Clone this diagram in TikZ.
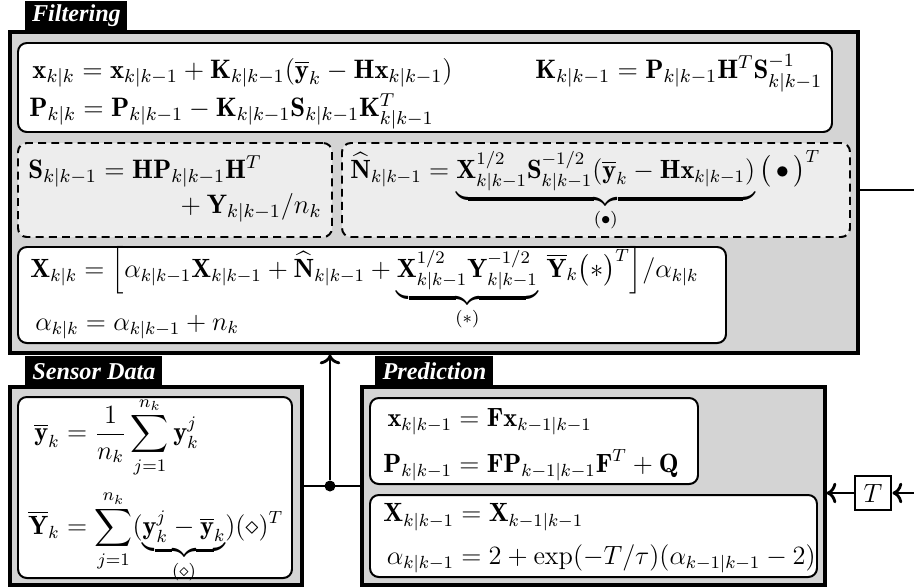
\documentclass[tikz,border=0pt]{standalone}
\usepackage{fix-cm}
\usepackage{amsmath}
\usepackage{amssymb}
\usepackage{fontspec}
\usepackage{tikz}
\usetikzlibrary{positioning, arrows.meta, fit}

\newfontfamily\titlefont{Liberation Serif}
\newcommand{\kp}{k|k-1}
\newcommand{\kpp}{k-1|k-1}
\newcommand{\bvec}[1]{\mathbf{#1}}

\begin{document}
\begin{tikzpicture}[
    x=0.4546pt, y=-0.4546pt,
    >={To},
    every node/.append style={font=\fontsize{12}{14.5}\selectfont},
    group/.style={draw, line width=1.4pt, fill=black!17, inner sep=0pt},
    eqbox/.style={draw, line width=0.9pt, fill=white, rounded corners=4pt, inner sep=0pt},
    dashbox/.style={eqbox, fill=black!7, dash pattern=on 3.6pt off 2.4pt},
    title/.style={fill=black, text=white, inner sep=0pt, anchor=south west,
      minimum height=14pt,
      font=\titlefont\bfseries\itshape\fontsize{11}{13}\selectfont},
    eq/.style={inner sep=0pt, anchor=base west},
    bigeq/.style={eq, font=\fontsize{12.15}{14.5}\selectfont},
    link/.style={line width=1.3pt},
    dot/.style={circle, fill=black, inner sep=0pt, minimum size=5pt},
    tbox/.style={draw, line width=1.3pt, fill=white, minimum width=16.4pt,
      minimum height=15.5pt, inner sep=0pt},
  ]
  \useasboundingbox (0,0) rectangle (914,587);

  % filtering block
  \node[group, fit={(10,32) (858,353)}] (filt) {};
  \node[title, minimum width=102*0.4546pt] (filttitle) at (25,32) {Filtering};
  \node[eqbox, fit={(18,43) (832,132)}] (fbox) {};
  \node[dashbox, fit={(18,143) (332,237)}] (sbox) {};
  \node[dashbox, fit={(342,143) (850,237)}] (nbox) {};
  \node[eqbox, fit={(18,247) (726,343)}] (xbox) {};

  \node[bigeq] (xupd) at (32,78)
    {$\bvec{x}_{k|k} = \bvec{x}_{\kp} + \bvec{K}_{\kp}(\overline{\bvec{y}}_k - \bvec{H}\bvec{x}_{\kp})$};
  \node[bigeq] (pupd) at (29,116)
    {$\bvec{P}_{k|k} = \bvec{P}_{\kp} - \bvec{K}_{\kp}\bvec{S}_{\kp}\bvec{K}^T_{\kp}$};
  \node[bigeq] (kgain) at (535,78)
    {$\bvec{K}_{\kp} = \bvec{P}_{\kp}\bvec{H}^T\bvec{S}^{-1}_{\kp}$};

  \node[bigeq] (sinn1) at (28,178)
    {$\bvec{S}_{\kp} = \bvec{H}\bvec{P}_{\kp}\bvec{H}^T$};
  \node[bigeq, anchor=base east] (sinn2) at (322,213)
    {${}+ \bvec{Y}_{\kp}/n_k$};
  \node[eq] (ninn) at (350,178)
    {$\widehat{\bvec{N}}_{\kp} = \underbrace{\bvec{X}^{1/2}_{\kp}\bvec{S}^{-1/2}_{\kp}(\overline{\bvec{y}}_k - \bvec{H}\bvec{x}_{\kp})}_{(\bullet)}\,\bigl(\,\bullet\,\bigr)^T$};

  \node[eq] (xupd2) at (30,277)
    {$\bvec{X}_{k|k} = \Bigl[\alpha_{\kp}\bvec{X}_{\kp} + \widehat{\bvec{N}}_{\kp} + \underbrace{\bvec{X}^{1/2}_{\kp}\bvec{Y}^{-1/2}_{\kp}}_{(\ast)}\,\overline{\bvec{Y}}_k\bigl(\ast\bigr)^T\Bigr]/\alpha_{k|k}$};
  \node[eq] (aupd) at (35,330)
    {$\alpha_{k|k} = \alpha_{\kp} + n_k$};

  % sensor data block
  \node[group, fit={(10,387) (302,585)}] (sens) {};
  \node[title, minimum width=137*0.4546pt] (senstitle) at (25,387) {Sensor Data};
  \node[eqbox, fit={(18,397) (292,578)}] (ybox) {};
  \node[inner sep=0pt, anchor=west] (ymean) at (28,490)
    {$\begin{aligned}
      \overline{\bvec{y}}_k &= \frac{1}{n_k}\sum_{j=1}^{n_k}\bvec{y}_k^j\\[2pt]
      \overline{\bvec{Y}}_k &= \sum_{j=1}^{n_k}(\underbrace{\bvec{y}_k^j - \overline{\bvec{y}}_k}_{(\diamond)})(\diamond)^T
    \end{aligned}$};

  % prediction block
  \node[group, fit={(362,387) (825,585)}] (pred) {};
  \node[title, minimum width=118*0.4546pt] (predtitle) at (375,387) {Prediction};
  \node[eqbox, fit={(370,398) (698,484)}] (pbox1) {};
  \node[eqbox, fit={(370,495) (817,577)}] (pbox2) {};
  \node[inner sep=0pt, anchor=west] (kpred) at (383,443)
    {$\begin{aligned}
      \bvec{x}_{\kp} &= \bvec{F}\bvec{x}_{\kpp}\\[2pt]
      \bvec{P}_{\kp} &= \bvec{F}\bvec{P}_{\kpp}\bvec{F}^T + \bvec{Q}
    \end{aligned}$};
  \node[inner sep=0pt, anchor=west] (rpred) at (383,537)
    {$\begin{aligned}
      \bvec{X}_{\kp} &= \bvec{X}_{\kpp}\\[2pt]
      \alpha_{\kp} &= 2 + \exp(-T/\tau)(\alpha_{\kpp} - 2)
    \end{aligned}$};

  % connectors
  \node[dot] (jn) at (330,486) {};
  \node[tbox] (delay) at (873,493) {$T$};
  \coordinate (outR) at (914,190);
  \coordinate (inR) at (914,493);

  \draw[link] (sens.east) -- (pred.west);
  \draw[link, ->] (jn) -- (jn |- filt.south);
  \draw[link] (nbox.east -| filt.east) -- (outR);
  \draw[link, ->] (inR) -- (delay);
  \draw[link, ->] (delay) -- (delay -| pred.east);
\end{tikzpicture}
\end{document}
